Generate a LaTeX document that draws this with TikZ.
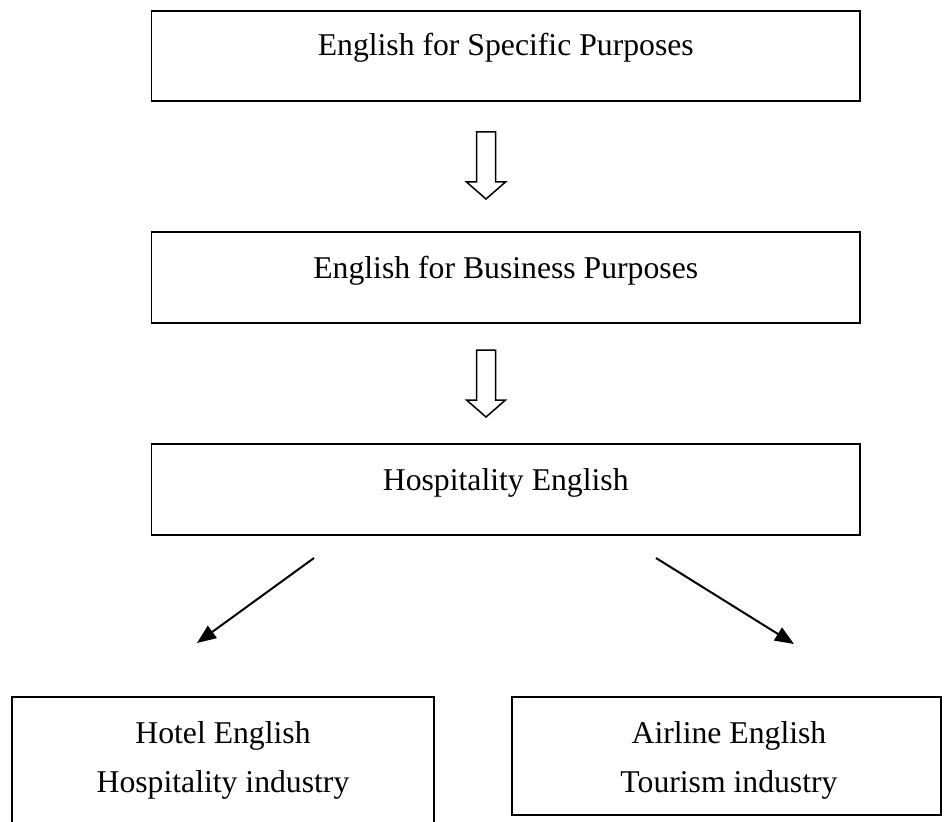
\documentclass[tikz,border=0pt]{standalone}
\usepackage{fontspec}
\setmainfont{Liberation Serif}
\usetikzlibrary{arrows.meta}
\begin{document}
\begin{tikzpicture}[x=1pt,y=-1pt,
  box/.style={draw=black,line width=1.6pt,rectangle,inner sep=0pt,fill=white},
  lbl/.style={inner sep=0pt,anchor=base,font=\fontsize{31.7}{38}\selectfont},
  hollow/.style={draw=black,line width=1.5pt,fill=white,line join=miter},
  diag/.style={draw=black,line width=2pt,-{Triangle[length=19pt,width=15pt]}}]
\clip (0,0) rectangle (944,821);
\fill[white] (0,0) rectangle (944,821);
% boxes
\node[box,minimum width=708.5pt,minimum height=90pt] (esp) at (505.75,56) {};
\node[box,minimum width=708.5pt,minimum height=91pt] (ebp) at (505.75,277.5) {};
\node[box,minimum width=708.5pt,minimum height=91pt] (hosp) at (505.75,489.5) {};
\node[box,minimum width=422pt,minimum height=150pt] (hotel) at (223,772) {};
\node[box,minimum width=429pt,minimum height=118pt] (air) at (726.5,756) {};
% texts
\node[lbl] (tesp) at (505.75,56) {English for Specific Purposes};
\node[lbl] (tebp) at (505.75,278) {English for Business Purposes};
\node[lbl] (thosp) at (505.75,490) {Hospitality English};
\node[lbl] (thotel1) at (223,743) {Hotel English};
\node[lbl] (thotel2) at (223,792) {Hospitality industry};
\node[lbl] (tair1) at (729,743) {Airline English};
\node[lbl] (tair2) at (729,792) {Tourism industry};
% hollow arrows
\coordinate (a1) at (486,132);
\coordinate (a2) at (486,350);
\foreach \c in {a1,a2}{
  \draw[hollow] ([xshift=-9.5pt]\c) -- ++(0,50) -- ++(-10,0) -- ++(19.5,17) -- ++(19.5,-17) -- ++(-10,0) -- ++(0,-50) -- cycle;
}
% diagonal arrows
\coordinate (l1) at (314,558);
\coordinate (l2) at (197,643);
\coordinate (r1) at (656,558);
\coordinate (r2) at (794,644);
\draw[diag] (l1) -- (l2);
\draw[diag] (r1) -- (r2);
\end{tikzpicture}
\end{document}
